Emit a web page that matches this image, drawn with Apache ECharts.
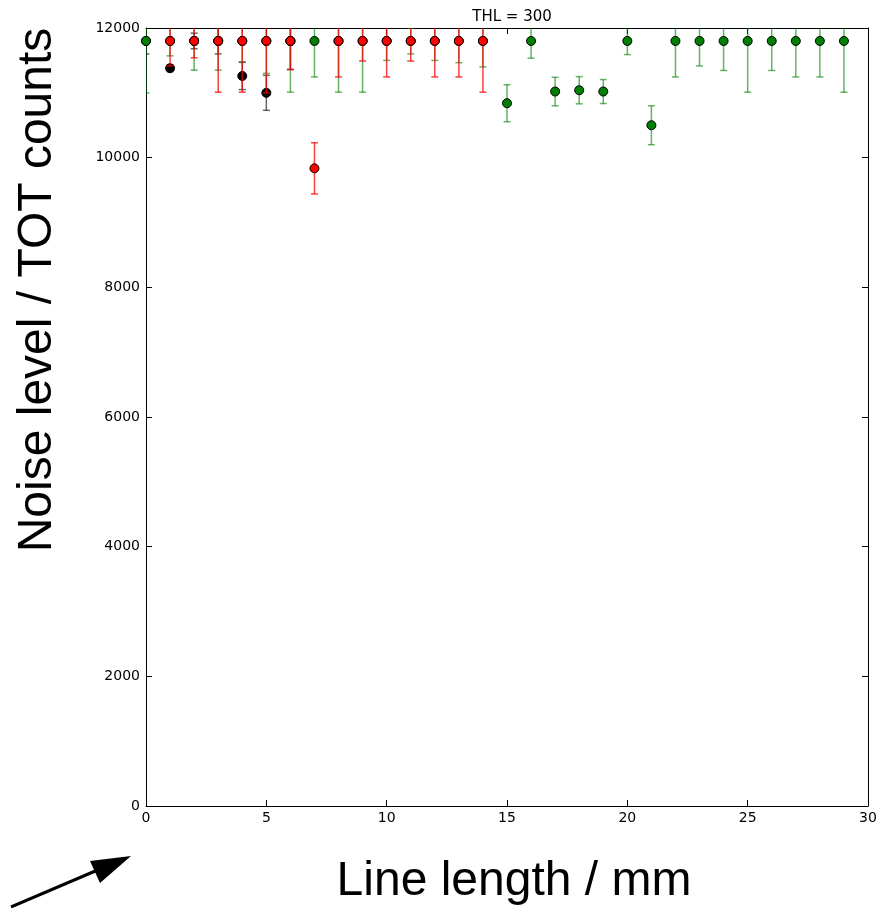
<!DOCTYPE html>
<html>
<head>
<meta charset="utf-8">
<script src="https://cdn.jsdelivr.net/npm/echarts@6/dist/echarts.min.js"></script>
<style>
  html, body { margin: 0; padding: 0; background: #fff; }
  #chart { width: 889px; height: 908px; }
</style>
</head>
<body>
<div id="chart"></div>
<script>
// x positions / values / errors
var blackX   = [0, 1, 2, 3, 4, 5, 6];
var blackY   = [11800, 11380, 11800, 11800, 11260, 11000, 11800];
var blackErr = [200, 50, 120, 200, 210, 270, 440];

var greenX   = [0, 1, 2, 3, 4, 5, 6, 7, 8, 9, 10, 11, 12, 13, 14, 15, 16, 17, 18, 19, 20, 21, 22, 23, 24, 25, 26, 27, 28, 29];
var greenY   = [11800, 11800, 11800, 11800, 11800, 11800, 11800, 11800, 11800, 11800, 11800, 11800, 11800, 11800, 11800,
                10840, 11800, 11020, 11040, 11020, 11800, 10500, 11800, 11800, 11800, 11800, 11800, 11800, 11800, 11800];
var greenErr = [800, 230, 450, 450, 320, 500, 790, 555, 790, 790, 300, 200, 300, 335, 400,
                285, 265, 220, 210, 185, 210, 300, 555, 385, 455, 790, 455, 555, 555, 790];

var redX   = [1, 2, 3, 4, 5, 6, 7, 8, 9, 10, 11, 12, 13, 14];
var redY   = [11800, 11800, 11800, 11800, 11800, 11800, 9835, 11800, 11800, 11800, 11800, 11800, 11800, 11800];
var redErr = [385, 260, 790, 790, 800, 440, 395, 555, 310, 555, 310, 555, 555, 790];

var xTicks = [0, 5, 10, 15, 20, 25, 30];
var yTicks = [0, 2000, 4000, 6000, 8000, 10000, 12000];

function zipData(xs, ys, es) {
    return xs.map(function (x, i) { return [x, ys[i], es[i]]; });
}

// error bar: vertical line with caps
function errorBar(color, alpha) {
    return function (params, api) {
        var x = api.value(0), y = api.value(1), e = api.value(2);
        var lo = api.coord([x, y - e]);
        var hi = api.coord([x, y + e]);
        var cap = 3.5;
        var style = { stroke: color, lineWidth: 1.5, opacity: alpha };
        return {
            type: 'group',
            children: [
                { type: 'line', shape: { x1: lo[0], y1: lo[1], x2: hi[0], y2: hi[1] }, style: style },
                { type: 'line', shape: { x1: lo[0] - cap, y1: lo[1], x2: lo[0] + cap, y2: lo[1] }, style: style },
                { type: 'line', shape: { x1: hi[0] - cap, y1: hi[1], x2: hi[0] + cap, y2: hi[1] }, style: style }
            ]
        };
    };
}

var tickFont = { color: '#000', fontFamily: 'DejaVu Sans', fontSize: 14 };
var axisBase = {
    axisLine: { show: true, onZero: false, lineStyle: { color: '#000', width: 1 } },
    axisTick: { show: true, inside: true, length: 6, lineStyle: { color: '#000' } },
    splitLine: { show: false }
};

var chart = echarts.init(document.getElementById('chart'), null, { renderer: 'canvas' });
chart.setOption({
    animation: false,
    backgroundColor: '#fff',
    title: {
        text: 'THL = 300',
        left: 507, top: 5, textAlign: 'center',
        textStyle: { fontFamily: 'DejaVu Sans', fontSize: 15, fontWeight: 'normal', color: '#000' }
    },
    grid: { left: 146, right: 21, top: 28, bottom: 102 },
    xAxis: [
        Object.assign({
            type: 'value', min: 0, max: 30, interval: 5, position: 'bottom',
            axisLabel: Object.assign({ margin: 5, formatter: function (v) { return xTicks.indexOf(v) >= 0 ? String(v) : ''; } }, tickFont)
        }, axisBase),
        Object.assign({
            type: 'value', min: 0, max: 30, interval: 5, position: 'top',
            axisLabel: { show: false }
        }, axisBase)
    ],
    yAxis: [
        Object.assign({
            type: 'value', min: 0, max: 12000, interval: 2000, position: 'left',
            axisLabel: Object.assign({ margin: 6, formatter: function (v) { return yTicks.indexOf(v) >= 0 ? String(v) : ''; } }, tickFont)
        }, axisBase),
        Object.assign({
            type: 'value', min: 0, max: 12000, interval: 2000, position: 'right',
            axisLabel: { show: false }
        }, axisBase)
    ],
    graphic: [
        {
            type: 'text', x: 514, y: 882,
            style: { text: 'Line length / mm', textAlign: 'center', textVerticalAlign: 'middle',
                     fontFamily: 'Liberation Sans', fontSize: 48, fill: '#000' }
        },
        {
            type: 'text', rotation: Math.PI / 2, x: 38, y: 290,
            style: { text: 'Noise level / TOT counts', textAlign: 'center', textVerticalAlign: 'middle',
                     fontFamily: 'Liberation Sans', fontSize: 48, fill: '#000' }
        },
        {
            type: 'line',
            shape: { x1: 11, y1: 907, x2: 100, y2: 869 },
            style: { stroke: '#000', lineWidth: 3 }
        },
        {
            type: 'polygon',
            shape: { points: [[131, 856], [90, 861], [100, 883]] },
            style: { fill: '#000' }
        }
    ],
    series: [
        { type: 'custom', clip: true, renderItem: errorBar('#000', 0.6), data: zipData(blackX, blackY, blackErr), z: 1 },
        { type: 'scatter', data: zipData(blackX, blackY, blackErr), symbolSize: 9, z: 2,
          itemStyle: { color: '#000', borderColor: '#000', borderWidth: 1, opacity: 1 } },
        { type: 'custom', clip: true, renderItem: errorBar('#008000', 0.6), data: zipData(greenX, greenY, greenErr), z: 3 },
        { type: 'scatter', data: zipData(greenX, greenY, greenErr), symbolSize: 9, z: 4,
          itemStyle: { color: '#008000', borderColor: '#000', borderWidth: 1, opacity: 1 } },
        { type: 'custom', clip: true, renderItem: errorBar('#ff0000', 0.75), data: zipData(redX, redY, redErr), z: 5 },
        { type: 'scatter', data: zipData(redX, redY, redErr), symbolSize: 9, z: 6,
          itemStyle: { color: '#ff0000', borderColor: '#000', borderWidth: 1, opacity: 1 } }
    ]
});
</script>
</body>
</html>
